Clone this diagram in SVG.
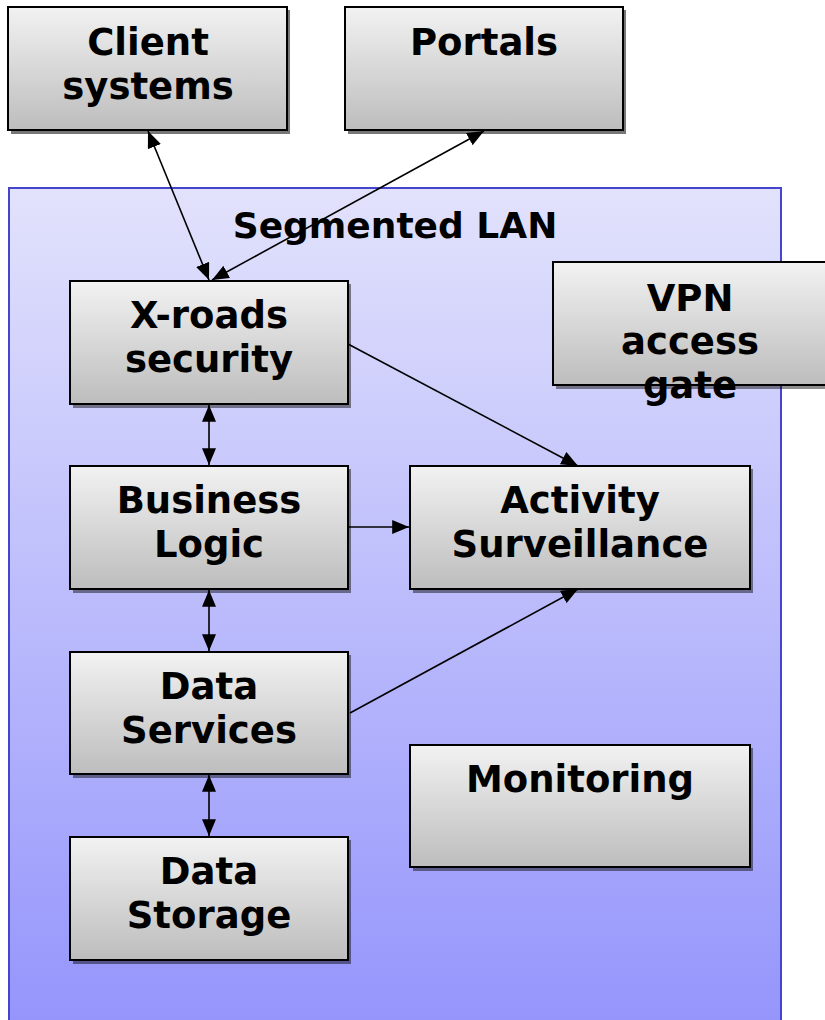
<svg xmlns="http://www.w3.org/2000/svg" width="825" height="1020" viewBox="0 0 825 1020">
<style>
.box{fill:url(#boxg);stroke:#000;stroke-width:2}
.sh{fill:#000;opacity:0.45}
.t{font-family:"DejaVu Sans",Verdana,sans-serif;font-weight:bold;font-size:37px;fill:#000;text-anchor:middle}
.c{stroke:#000;stroke-width:1.6;fill:none}
</style>
<defs>
<linearGradient id="boxg" x1="0" y1="0" x2="0" y2="1">
<stop offset="0" stop-color="#f2f2f2"/>
<stop offset="1" stop-color="#bdbdbd"/>
</linearGradient>
<linearGradient id="lan" gradientUnits="userSpaceOnUse" x1="0" y1="188" x2="0" y2="1020">
<stop offset="0" stop-color="#e2e2fc"/>
<stop offset="1" stop-color="#9595fc"/>
</linearGradient>
<marker id="ah" viewBox="0 0 12 10" refX="12" refY="5" markerWidth="17" markerHeight="14" markerUnits="userSpaceOnUse" orient="auto-start-reverse">
<path d="M0,0 L12,5 L0,10 Z" fill="#000"/>
</marker>
</defs>
<rect width="825" height="1020" fill="#fff"/>
<g id="lan-group">
<rect x="9" y="188" width="772" height="840" fill="url(#lan)" stroke="#4444cc" stroke-width="2"/>
<text class="t" x="395" y="238" style="font-size:36px">Segmented LAN</text>
</g>
<g id="client">
<rect class="sh" x="11" y="10" width="279" height="124" style="fill:#777;opacity:1"/>
<rect class="box" x="8" y="7" width="279" height="123"/>
<text class="t" x="148" y="55">Client</text>
<text class="t" x="148" y="99">systems</text>
</g>
<g id="portals">
<rect class="sh" x="348" y="10" width="278" height="124" style="fill:#777;opacity:1"/>
<rect class="box" x="345" y="7" width="278" height="123"/>
<text class="t" x="484" y="55">Portals</text>
</g>
<g id="xroads">
<rect class="sh" x="73" y="284" width="278" height="124"/>
<rect class="box" x="70" y="281" width="278" height="123"/>
<text class="t" x="209" y="328">X-roads</text>
<text class="t" x="209" y="372">security</text>
</g>
<g id="vpn">
<rect class="sh" x="556" y="265" width="278" height="124"/>
<rect class="box" x="553" y="262" width="278" height="123"/>
<text class="t" x="690" y="311">VPN</text>
<text class="t" x="690" y="354">access</text>
<text class="t" x="690" y="398">gate</text>
</g>
<g id="business">
<rect class="sh" x="73" y="469" width="278" height="124"/>
<rect class="box" x="70" y="466" width="278" height="123"/>
<text class="t" x="209" y="513">Business</text>
<text class="t" x="209" y="557">Logic</text>
</g>
<g id="activity">
<rect class="sh" x="413" y="469" width="340" height="124"/>
<rect class="box" x="410" y="466" width="340" height="123"/>
<text class="t" x="580" y="513">Activity</text>
<text class="t" x="580" y="557">Surveillance</text>
</g>
<g id="dataservices">
<rect class="sh" x="73" y="655" width="278" height="123"/>
<rect class="box" x="70" y="652" width="278" height="122"/>
<text class="t" x="209" y="699">Data</text>
<text class="t" x="209" y="743">Services</text>
</g>
<g id="monitoring">
<rect class="sh" x="413" y="748" width="340" height="123"/>
<rect class="box" x="410" y="745" width="340" height="122"/>
<text class="t" x="580" y="792">Monitoring</text>
</g>
<g id="datastorage">
<rect class="sh" x="73" y="840" width="278" height="124"/>
<rect class="box" x="70" y="837" width="278" height="123"/>
<text class="t" x="209" y="884">Data</text>
<text class="t" x="209" y="928">Storage</text>
</g>
<g id="connectors">
<line class="c" x1="148" y1="131" x2="209" y2="280" marker-start="url(#ah)" marker-end="url(#ah)"/>
<line class="c" x1="484" y1="131" x2="212" y2="280" marker-start="url(#ah)" marker-end="url(#ah)"/>
<line class="c" x1="348" y1="344" x2="578" y2="466" marker-end="url(#ah)"/>
<line class="c" x1="209" y1="405" x2="209" y2="465" marker-start="url(#ah)" marker-end="url(#ah)"/>
<line class="c" x1="348" y1="527" x2="409" y2="527" marker-end="url(#ah)"/>
<line class="c" x1="209" y1="590" x2="209" y2="651" marker-start="url(#ah)" marker-end="url(#ah)"/>
<line class="c" x1="350" y1="713" x2="578" y2="589" marker-end="url(#ah)"/>
<line class="c" x1="209" y1="775" x2="209" y2="836" marker-start="url(#ah)" marker-end="url(#ah)"/>
</g>
</svg>
